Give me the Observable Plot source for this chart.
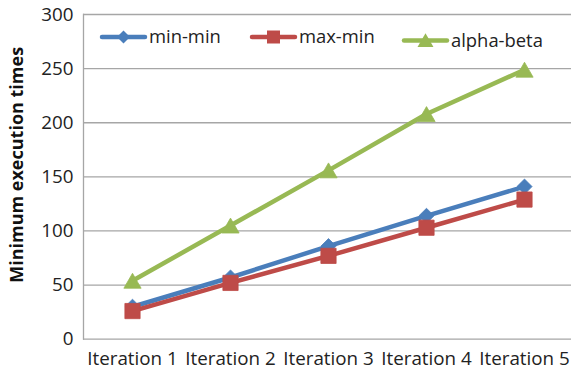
<!DOCTYPE html>
<html>
<head>
<meta charset="utf-8">
<script src="https://cdn.jsdelivr.net/npm/d3@7"></script>
<script src="https://cdn.jsdelivr.net/npm/@observablehq/plot@0.6"></script>
<style>
  html, body { margin: 0; padding: 0; background: #fff; }
</style>
</head>
<body>
<div id="chart"></div>
<script>
// Minimum execution times per iteration for three scheduling heuristics
const iterations = ["Iteration 1", "Iteration 2", "Iteration 3", "Iteration 4", "Iteration 5"];
const minMin = [30, 57, 86, 114, 141];
const maxMin = [26, 52, 77, 103, 129];
const alphaBeta = [54, 105, 156, 208, 249];
const seriesNames = ["min-min", "max-min", "alpha-beta"];
const yTicks = [0, 50, 100, 150, 200, 250, 300];
const yTitle = "Minimum execution times";

const seriesValues = [minMin, maxMin, alphaBeta];
const seriesColors = ["#4A7EBB", "#BE4B48", "#98B954"];
const seriesSymbols = ["diamond2", "square", "triangle"];
const legendSymbols = [d3.symbolDiamond2, d3.symbolSquare, d3.symbolTriangle];

const rows = seriesNames.flatMap((name, s) =>
  iterations.map((iteration, i) => ({series: name, iteration, value: seriesValues[s][i]}))
);

const font = "'Open Sans', sans-serif";
const axisFontSize = 18.8;
const legendFontSize = 18.4;
const titleFontSize = 18;
const markerR = [6.8, 8.6, 6.4];
// triangle glyphs sit low in their box; nudge so the box is centred on the point
const markerDy = [0, 0, 2.5];

const seriesMarks = seriesNames.flatMap((name, s) => {
  const data = rows.filter(d => d.series === name);
  return [
    Plot.line(data, {
      x: "iteration", y: "value",
      stroke: seriesColors[s], strokeWidth: 4.5,
      strokeLinejoin: "round", strokeLinecap: "round"
    }),
    Plot.dot(data, {
      x: "iteration", y: "value",
      symbol: seriesSymbols[s], r: markerR[s],
      fill: seriesColors[s], stroke: seriesColors[s], strokeWidth: 0.8,
      dy: markerDy[s]
    })
  ];
});

const chart = Plot.plot({
  width: 571,
  height: 371,
  marginTop: 14,
  marginLeft: 83,
  marginRight: 0,
  marginBottom: 32.3,
  style: {fontFamily: font, background: "#fff", color: "#222", overflow: "visible"},
  x: {type: "point", domain: iterations, range: [83, 573.5], padding: 0.5},
  y: {domain: [0, 300]},
  marks: [
    Plot.gridY(yTicks, {stroke: "#A6A6A6", strokeOpacity: 1, strokeWidth: 1.3}),
    Plot.frame({anchor: "left", stroke: "#A6A6A6", strokeWidth: 1.3}),
    Plot.axisY(yTicks, {tickSize: 0, tickPadding: 10, fontSize: axisFontSize, label: null}),
    Plot.axisX({tickSize: 0, tickPadding: 12, fontSize: axisFontSize, label: null}),
    Plot.text([yTitle], {
      frameAnchor: "left", textAnchor: "middle", rotate: -90, dx: -66, dy: -12,
      fontSize: titleFontSize, fontWeight: "bold", fill: "#111"
    }),
    ...seriesMarks
  ]
});

document.getElementById("chart").append(chart);

// Legend inside the top of the plot area
const svg = d3.select(chart);
const legendStarts = [102, 252, 404];
const legendRows = [37, 37, 40.5];
const legendSizes = [108, 169, 110];
const legend = svg.append("g")
  .attr("font-family", font)
  .attr("font-size", legendFontSize)
  .attr("text-anchor", "start");
seriesNames.forEach((name, s) => {
  const g = legend.append("g")
    .attr("transform", `translate(${legendStarts[s]},${legendRows[s]})`);
  g.append("line")
    .attr("x1", 0).attr("x2", 43)
    .attr("stroke", seriesColors[s]).attr("stroke-width", 4.5)
    .attr("stroke-linecap", "round");
  g.append("path")
    .attr("d", d3.symbol(legendSymbols[s], legendSizes[s])())
    .attr("transform", `translate(21.5,${s === 2 ? 2 : 0})`)
    .attr("fill", seriesColors[s]);
  g.append("text")
    .attr("x", 47).attr("dy", "0.35em")
    .attr("text-anchor", "start")
    .attr("fill", "#222")
    .text(name);
});
</script>
</body>
</html>
